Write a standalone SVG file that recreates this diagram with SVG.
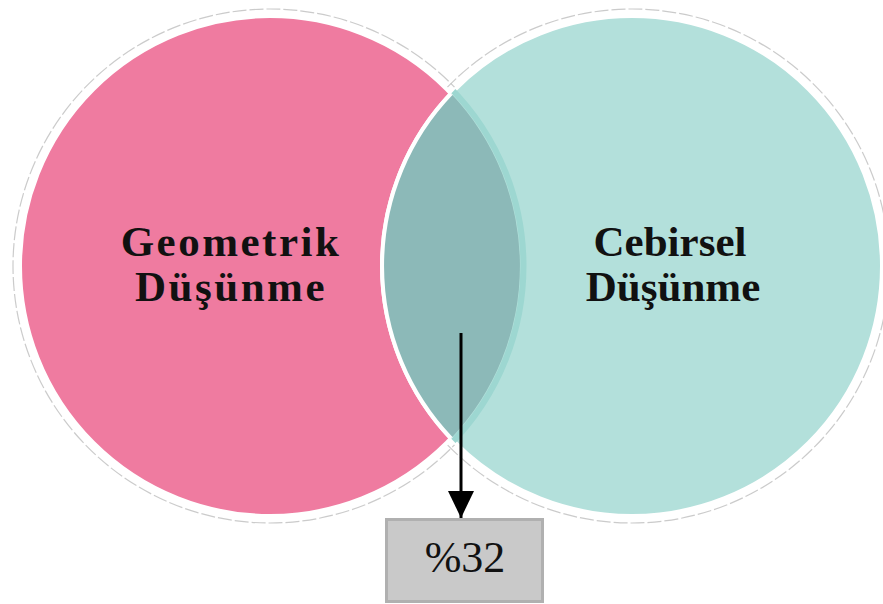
<svg xmlns="http://www.w3.org/2000/svg" width="883" height="604" viewBox="0 0 883 604">
<style>
.ring{fill:none;stroke:#b9b9b9;stroke-width:1.2;stroke-dasharray:14 3;opacity:0.75}
.lbl{font-family:"Liberation Serif","Times New Roman",serif;font-weight:bold;font-size:43px;fill:#111;text-anchor:middle}
.val{font-family:"Liberation Serif","Times New Roman",serif;font-size:44px;fill:#111;text-anchor:middle}
</style>
<defs>
<clipPath id="tealClip"><circle cx="632" cy="266" r="250"/></clipPath>
<marker id="ah" markerWidth="27" markerHeight="26" refX="27" refY="13" orient="auto" markerUnits="userSpaceOnUse" viewBox="0 0 27 26">
<path d="M0 0 L27 13 L0 26 Z" fill="#000"/>
</marker>
</defs>
<rect width="883" height="604" fill="#fff"/>
<circle class="ring" cx="270" cy="266" r="257"/>
<circle class="ring" cx="632" cy="266" r="257"/>
<g id="geometrik">
<circle cx="270" cy="266" r="250" fill="#ef7ba0" stroke="#fff" stroke-width="4"/>
<text class="lbl" x="231" y="256" letter-spacing="2.5">Geometrik</text>
<text class="lbl" x="231" y="301" letter-spacing="2.5">Düşünme</text>
</g>
<g id="cebirsel">
<circle cx="632" cy="266" r="250" fill="#b3e0db" stroke="#fff" stroke-width="4"/>
<path d="M451 93.6 A250 250 0 0 1 451 438.4 A250 250 0 0 1 451 93.6 Z" fill="#8cb9b8"/>
<circle cx="270" cy="266" r="253.5" fill="none" stroke="#9dd7d1" stroke-width="6" clip-path="url(#tealClip)"/>
<path d="M451 438.4 A250 250 0 0 1 451 93.6" fill="none" stroke="#fff" stroke-width="4"/>
<text class="lbl" x="670" y="256">Cebirsel</text>
<text class="lbl" x="673" y="301">Düşünme</text>
</g>
<g id="connectors">
<line x1="461" y1="333" x2="461" y2="518" stroke="#000" stroke-width="3" marker-end="url(#ah)"/>
</g>
<g id="value">
<rect x="386.5" y="519.5" width="156" height="82" fill="#c9c9c9" stroke="#b0b0b0" stroke-width="3"/>
<text class="val" x="465" y="572">%32</text>
</g>
</svg>
